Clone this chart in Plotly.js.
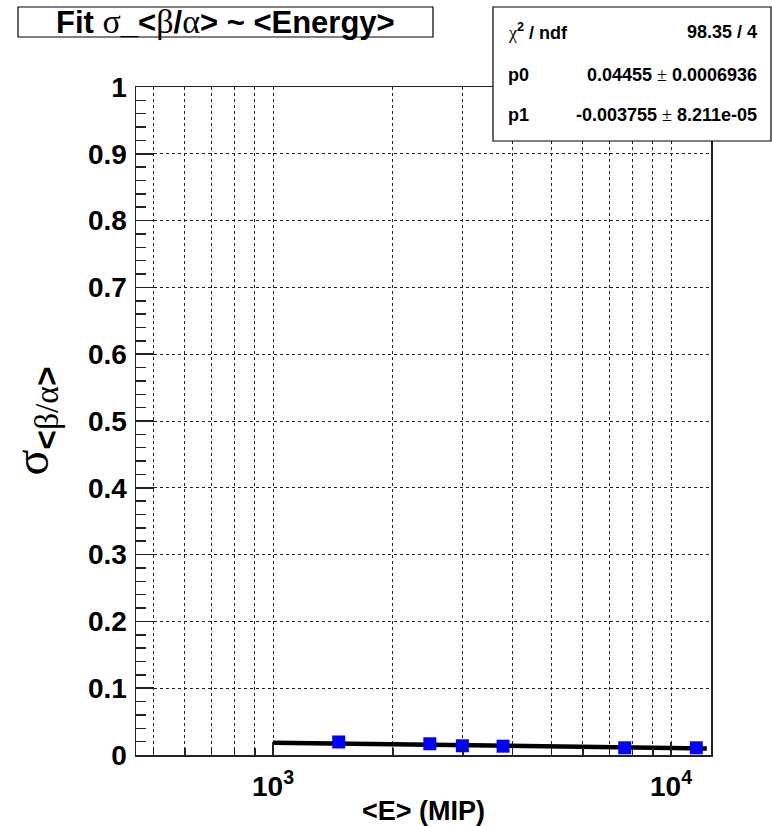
<!DOCTYPE html>
<html>
<head>
<meta charset="utf-8">
<script src="https://cdn.plot.ly/plotly-3.0.1.min.js"></script>
<style>html,body{margin:0;padding:0;background:#fff;}</style>
</head>
<body>
<div id="chart" style="width:772px;height:826px;"></div>
<script>
// Data
const energy = [1462, 2477, 2990, 3784, 7649, 11575];
const sigma  = [0.0195, 0.0168, 0.0138, 0.0132, 0.0108, 0.0108];
// Fit line end points (straight on log-x axis)
const fitX = [1000, 12300];
const fitY = [0.0185, 0.0097];
// Axis ticks
const xMajorVals = [1000, 10000];
const xMajorText = ['10<sup>3</sup>', '10<sup>4</sup>'];
const xMinorVals = [500, 600, 700, 800, 900, 2000, 3000, 4000, 5000, 6000, 7000, 8000, 9000];
// Stats box texts
const statLabels = ['<span style="font-family:Liberation Serif;font-weight:normal">χ</span><sup>2</sup> / ndf', 'p0', 'p1'];
const statValues = ['98.35 / 4',
  '0.04455 <span style="font-family:Liberation Serif;font-weight:normal">±</span> 0.0006936',
  '-0.003755 <span style="font-family:Liberation Serif;font-weight:normal">±</span> 8.211e-05'];

const SERIF = 'font-family:Liberation Serif;font-weight:normal;font-size:34px';
const titleText = '<b>Fit </b><span style="' + SERIF + '">σ</span><b>_&lt;</b><span style="' + SERIF + '">β</span><b>/</b><span style="' + SERIF + '">α</span><b>&gt; ~ &lt;Energy&gt;</b>';

const traces = [
  {
    x: fitX, y: fitY, type: 'scatter', mode: 'lines',
    line: {color: '#000000', width: 4.5}, hoverinfo: 'skip', showlegend: false
  },
  {
    x: energy, y: sigma, type: 'scatter', mode: 'markers',
    marker: {symbol: 'square', size: 13, color: '#0000ff'}, showlegend: false
  }
];

const W = 772, H = 826;
const L = 136, R = 711, T = 87, B = 755;
function px(xp) { return (xp - L) / (R - L); }
function py(yp) { return (B - yp) / (B - T); }

const statYs = [32, 75, 115];
const annotations = [
  {
    xref: 'paper', yref: 'paper', x: px(225.5), y: py(22),
    xanchor: 'center', yanchor: 'middle', showarrow: false,
    text: titleText, font: {family: 'Liberation Sans', size: 31, color: '#000'}
  }
];
statLabels.forEach((t, i) => annotations.push({
  xref: 'paper', yref: 'paper', x: px(506), y: py(statYs[i]),
  xanchor: 'left', yanchor: 'middle', showarrow: false,
  text: '<b>' + t + '</b>', font: {family: 'Liberation Sans', size: 18, color: '#000'}
}));
statValues.forEach((t, i) => annotations.push({
  xref: 'paper', yref: 'paper', x: px(759), y: py(statYs[i]),
  xanchor: 'right', yanchor: 'middle', showarrow: false,
  text: '<b>' + t + '</b>', font: {family: 'Liberation Sans', size: 18, color: '#000'}
}));

const layout = {
  width: W, height: H,
  margin: {l: L, r: W - R, t: T, b: H - B, pad: 0},
  paper_bgcolor: '#ffffff', plot_bgcolor: '#ffffff',
  showlegend: false,
  font: {family: 'Liberation Sans', color: '#000'},
  xaxis: {
    type: 'log',
    range: [Math.log10(452.5), Math.log10(12600)],
    tickmode: 'array', tickvals: xMajorVals, ticktext: xMajorText,
    ticks: 'inside', ticklen: 13, tickwidth: 1.5, tickcolor: '#222',
    showgrid: true, gridcolor: '#222', griddash: 'dot', gridwidth: 1,
    minor: {tickmode: 'array', tickvals: xMinorVals, ticks: 'inside', ticklen: 7, tickwidth: 1.5, tickcolor: '#222',
            showgrid: true, gridcolor: '#222', griddash: 'dot', gridwidth: 1},
    showline: true, linecolor: '#222', linewidth: 1.5, mirror: true,
    zeroline: false,
    tickfont: {family: 'Liberation Sans', size: 28, weight: 'bold'},
    ticklabelstandoff: 6,
    title: {text: '<b>&lt;E&gt; (MIP)</b>', font: {family: 'Liberation Sans', size: 27}, standoff: 1}
  },
  yaxis: {
    range: [0, 1],
    tickmode: 'linear', tick0: 0, dtick: 0.1,
    ticks: 'inside', ticklen: 18, tickwidth: 1.5, tickcolor: '#222',
    showgrid: true, gridcolor: '#222', griddash: 'dot', gridwidth: 1,
    minor: {tickmode: 'linear', dtick: 0.02, ticks: 'inside', ticklen: 10, tickwidth: 1.5, tickcolor: '#222', showgrid: false},
    showline: true, linecolor: '#222', linewidth: 1.5, mirror: true,
    zeroline: false,
    tickfont: {family: 'Liberation Sans', size: 28, weight: 'bold'},
    ticklabelstandoff: 2,
    title: {
      text: '<span style="font-family:Liberation Serif">σ</span><sub><b>&lt;</b><span style="font-family:Liberation Serif">β/α</span><b>&gt;</b></sub>',
      font: {family: 'Liberation Sans', size: 48}, standoff: 24
    }
  },
  shapes: [
    {type: 'rect', xref: 'paper', yref: 'paper', x0: px(18), x1: px(433), y0: py(37), y1: py(7),
     fillcolor: '#ffffff', line: {color: '#000', width: 1.2}, layer: 'above'},
    {type: 'rect', xref: 'paper', yref: 'paper', x0: px(493), x1: px(771), y0: py(141), y1: py(7),
     fillcolor: '#ffffff', line: {color: '#000', width: 1.2}, layer: 'above'}
  ],
  annotations: annotations
};

Plotly.newPlot('chart', traces, layout, {displayModeBar: false, staticPlot: true});
</script>
</body>
</html>
